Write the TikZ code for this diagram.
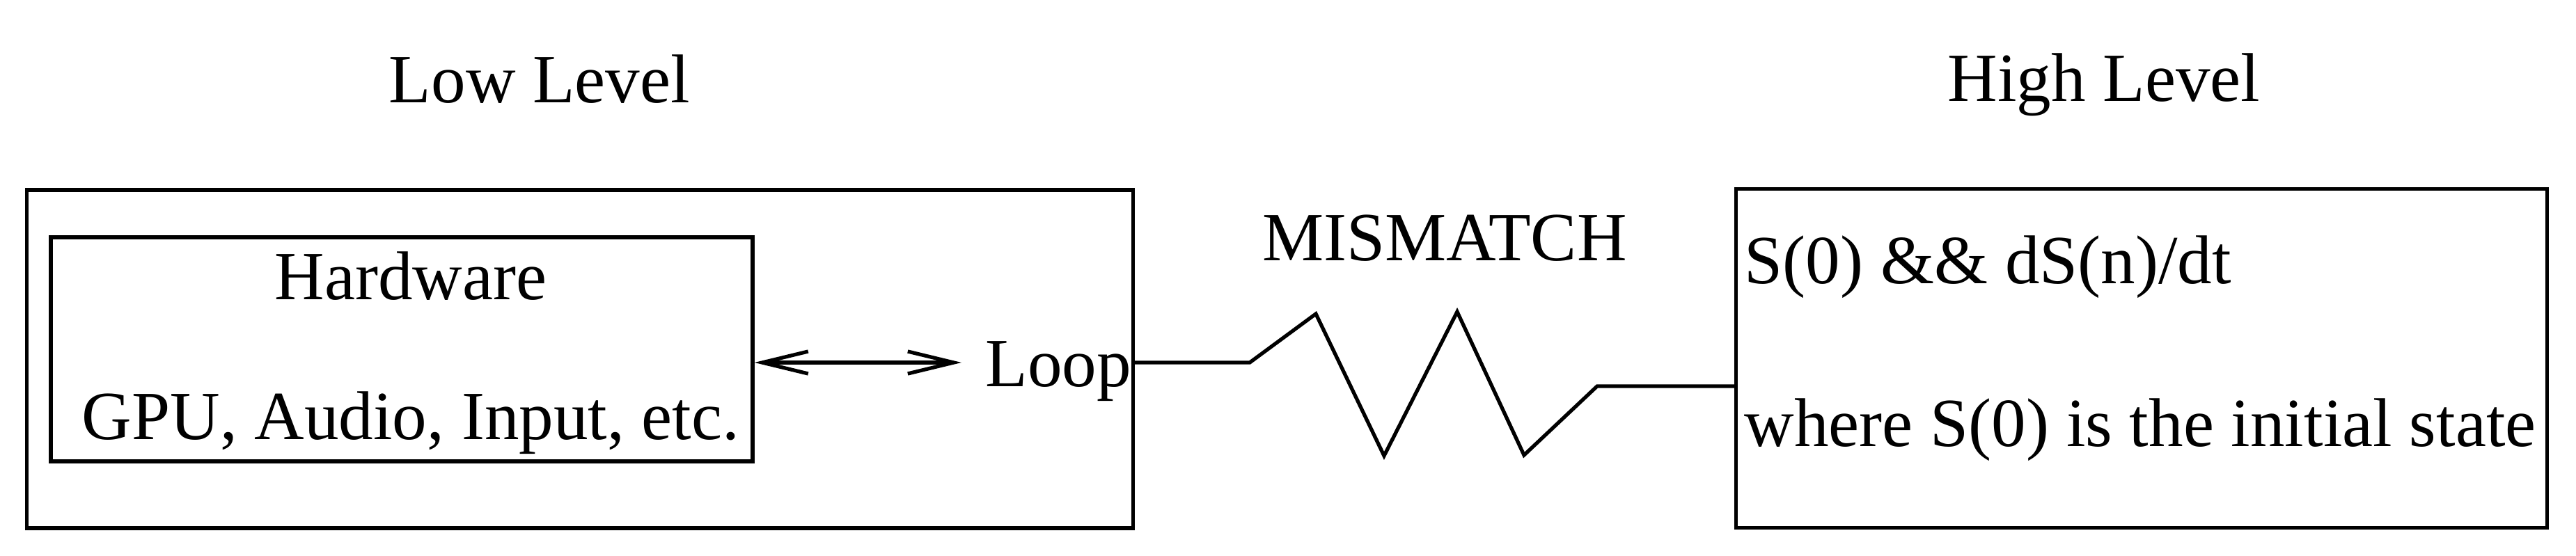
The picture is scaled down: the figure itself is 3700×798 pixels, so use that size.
\documentclass[tikz,border=0pt]{standalone}
\usepackage{fontspec}
\setmainfont{Liberation Serif}
\usetikzlibrary{arrows.meta, positioning}

\begin{document}
\begin{tikzpicture}[
            x = 0.05mm, y = 0.05mm, % one unit per pixel
            > = {Straight Barb[length=3.3mm, width=1.6mm]}, % arrow head style
            line width = 0.75pt, % line style
            every node/.style = {font=\fontsize{14.1}{17}\selectfont}
        ]

        \tikzstyle{level box}=[
            draw = black,
            line width = 0.75pt,
            inner sep = 0pt
        ]
        \tikzstyle{label}=[
            inner sep = 0pt,
            anchor = base
        ]

        \useasboundingbox (0,0) rectangle (3700,798);

        % the two levels
        \node[level box, minimum width=79.45mm, minimum height=24.3mm] (low) at (833,282) {};
        \node[level box, minimum width=50.4mm, minimum height=16.1mm] (hw) at (577,296) {};
        \node[level box, minimum width=58.25mm, minimum height=24.35mm] (high) at (3076,283) {};

        \node[label] (lowtitle) at (775,651) {Low Level};
        \node[label] (hightitle) at (3022,653) {High Level};
        \node[label] (hwtitle) at (590,368) {Hardware};
        \node[label] (hwlist) [below=1.005cm of hwtitle.base, anchor=base] {GPU, Audio, Input, etc.};
        \node[label, anchor=base west] (loop) at (1413,243) {Loop};
        \node[label] (mismatch) at (2075,424) {MISMATCH};
        \node[label, anchor=base west] (state) at (2503,391) {S(0) \&\& dS(n)/dt};
        \node[label] (where) [below=1.17cm of state.base west, anchor=base west] {where S(0) is the initial state};

        \coordinate (lp) at (1381,277);
        \coordinate (zz) at (2294,243);

        \draw[<->] (hw.east |- lp) -- (lp);
        \draw[miter limit=10] (low.east |- lp) -- (1795,277) -- (1890,347) -- (1988,143)
            -- (2093,350) -- (2189,144) -- (zz) -- (zz -| high.west);

  \end{tikzpicture}
\end{document}
